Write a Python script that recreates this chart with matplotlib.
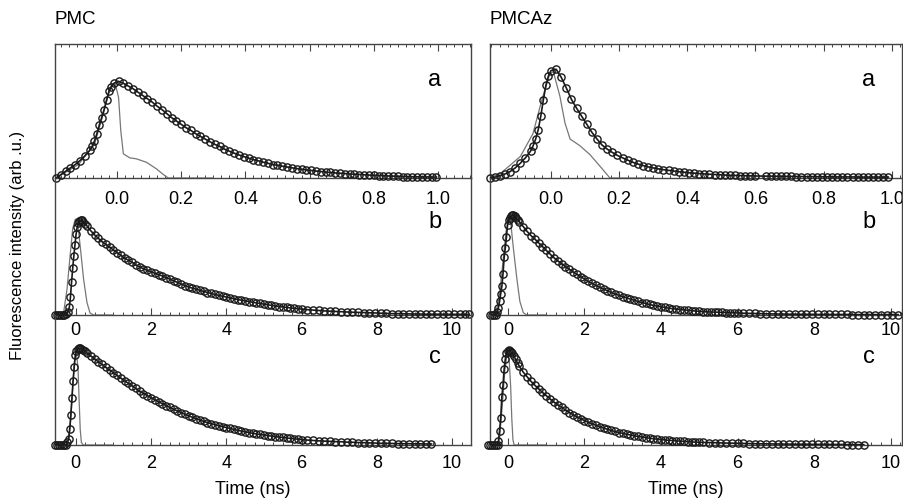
import matplotlib.pyplot as plt
from matplotlib.ticker import MultipleLocator

plt.rcParams['font.family'] = ['Liberation Sans', 'DejaVu Sans']

# ---- PMC (left column) ----
# a: short window, 0-1 ns
pmc_a_t = [-0.19, -0.175, -0.16, -0.145, -0.13, -0.115, -0.10, -0.085, -0.0775, -0.07,
           -0.0625, -0.055, -0.0475, -0.04, -0.0325, -0.025, -0.0175, -0.01, 0.005, 0.02,
           0.035, 0.05, 0.065, 0.08, 0.095, 0.11, 0.125, 0.14, 0.155, 0.17,
           0.185, 0.20, 0.215, 0.23, 0.245, 0.26, 0.275, 0.29, 0.305, 0.32,
           0.335, 0.35, 0.365, 0.38, 0.395, 0.41, 0.425, 0.44, 0.455, 0.47,
           0.485, 0.50, 0.515, 0.53, 0.545, 0.56, 0.575, 0.59, 0.605, 0.62,
           0.635, 0.65, 0.665, 0.68, 0.695, 0.71, 0.725, 0.74, 0.755, 0.77,
           0.785, 0.80, 0.815, 0.83, 0.845, 0.86, 0.875, 0.89, 0.905, 0.92,
           0.935, 0.95, 0.965, 0.98, 0.995]
pmc_a_i = [0.0, 0.025, 0.05, 0.075, 0.10, 0.13, 0.165, 0.205, 0.235, 0.275,
           0.33, 0.395, 0.45, 0.51, 0.58, 0.645, 0.68, 0.705, 0.72, 0.705,
           0.685, 0.665, 0.64, 0.615, 0.59, 0.565, 0.535, 0.51, 0.48, 0.45,
           0.425, 0.40, 0.375, 0.355, 0.33, 0.31, 0.29, 0.27, 0.25, 0.235,
           0.215, 0.20, 0.185, 0.172, 0.16, 0.148, 0.137, 0.128, 0.118, 0.11,
           0.10, 0.095, 0.088, 0.082, 0.076, 0.07, 0.065, 0.06, 0.056, 0.052,
           0.048, 0.044, 0.041, 0.038, 0.035, 0.033, 0.03, 0.028, 0.026, 0.024,
           0.022, 0.02, 0.018, 0.017, 0.015, 0.014, 0.013, 0.011, 0.01, 0.009,
           0.009, 0.008, 0.008, 0.007, 0.007]
pmc_a_irf_t = [-0.19, -0.12, -0.07, -0.04, -0.02, -0.005, 0.005, 0.012, 0.02, 0.04, 0.06,
               0.092, 0.123, 0.145, 0.16, 0.3]
pmc_a_irf_i = [0.0, 0.1, 0.25, 0.5, 0.68, 0.70, 0.6, 0.35, 0.18, 0.15, 0.143,
               0.117, 0.068, 0.025, 0.0, 0.0]

# b: 10 ns window
pmc_b_t = [-0.55, -0.5, -0.45, -0.4, -0.35, -0.3, -0.25, -0.2, -0.17, -0.14,
           -0.11, -0.08, -0.05, -0.02, 0.01, 0.04, 0.07, 0.10, 0.13, 0.16,
           0.2, 0.25, 0.3, 0.4, 0.5, 0.6, 0.7, 0.8, 0.9, 1.0,
           1.1, 1.2, 1.3, 1.4, 1.5, 1.6, 1.7, 1.8, 1.9, 2.0,
           2.1, 2.2, 2.3, 2.4, 2.5, 2.6, 2.7, 2.8, 2.9, 3.0,
           3.1, 3.2, 3.3, 3.4, 3.5, 3.6, 3.7, 3.8, 3.9, 4.0,
           4.1, 4.2, 4.3, 4.4, 4.5, 4.6, 4.7, 4.8, 4.9, 5.0,
           5.1, 5.2, 5.3, 5.4, 5.5, 5.6, 5.7, 5.8, 5.9, 6.0,
           6.15, 6.3, 6.45, 6.6, 6.75, 6.9, 7.05, 7.2, 7.35, 7.5,
           7.65, 7.8, 7.95, 8.1, 8.25, 8.4, 8.55, 8.7, 8.85, 9.0,
           9.15, 9.3, 9.45, 9.6, 9.75, 9.9, 10.05, 10.2, 10.35, 10.45]
pmc_b_i = [0.0, 0.0, 0.0, 0.0, 0.0, 0.0, 0.005, 0.025, 0.055, 0.13,
           0.24, 0.34, 0.43, 0.51, 0.59, 0.64, 0.675, 0.685, 0.69, 0.69,
           0.68, 0.665, 0.65, 0.615, 0.585, 0.56, 0.535, 0.515, 0.495, 0.475,
           0.455, 0.435, 0.415, 0.40, 0.385, 0.365, 0.35, 0.338, 0.326, 0.315,
           0.305, 0.295, 0.285, 0.273, 0.262, 0.25, 0.238, 0.226, 0.215, 0.204,
           0.196, 0.188, 0.18, 0.172, 0.164, 0.157, 0.15, 0.143, 0.137, 0.131,
           0.125, 0.119, 0.113, 0.108, 0.103, 0.098, 0.093, 0.088, 0.084, 0.079,
           0.075, 0.07, 0.066, 0.062, 0.059, 0.055, 0.052, 0.049, 0.046, 0.043,
           0.039, 0.036, 0.033, 0.03, 0.028, 0.026, 0.024, 0.022, 0.02, 0.019,
           0.018, 0.016, 0.015, 0.013, 0.012, 0.01, 0.01, 0.009, 0.008, 0.007,
           0.007, 0.006, 0.006, 0.006, 0.005, 0.005, 0.005, 0.005, 0.005, 0.005]
pmc_b_irf_t = [-0.55, -0.38, -0.32, -0.23, -0.15, -0.08, -0.01, 0.05, 0.12, 0.21, 0.30, 0.38, 0.47, 1.0]
pmc_b_irf_i = [0.0, 0.0, 0.02, 0.19, 0.43, 0.63, 0.70, 0.68, 0.50, 0.26, 0.09, 0.015, 0.0, 0.0]

# c: 10 ns window
pmc_c_t = [-0.55, -0.5, -0.45, -0.4, -0.35, -0.3, -0.25, -0.22, -0.19, -0.16,
           -0.13, -0.10, -0.07, -0.04, -0.01, 0.02, 0.05, 0.08, 0.11, 0.15,
           0.2, 0.25, 0.3, 0.4, 0.5, 0.6, 0.7, 0.8, 0.9, 1.0,
           1.1, 1.2, 1.3, 1.4, 1.5, 1.6, 1.7, 1.8, 1.9, 2.0,
           2.1, 2.2, 2.3, 2.4, 2.5, 2.6, 2.7, 2.8, 2.9, 3.0,
           3.1, 3.2, 3.3, 3.4, 3.5, 3.6, 3.7, 3.8, 3.9, 4.0,
           4.1, 4.2, 4.3, 4.4, 4.5, 4.6, 4.7, 4.8, 4.9, 5.0,
           5.1, 5.2, 5.3, 5.4, 5.5, 5.6, 5.7, 5.8, 5.9, 6.0,
           6.15, 6.3, 6.45, 6.6, 6.75, 6.9, 7.05, 7.2, 7.35, 7.5,
           7.65, 7.8, 7.95, 8.1, 8.25, 8.4, 8.55, 8.7, 8.85, 9.0,
           9.15, 9.3, 9.45]
pmc_c_i = [0.0, 0.0, 0.0, 0.0, 0.0, 0.0, 0.0, 0.02, 0.046, 0.12,
           0.23, 0.36, 0.49, 0.60, 0.69, 0.725, 0.74, 0.745, 0.745, 0.74,
           0.73, 0.72, 0.708, 0.685, 0.663, 0.64, 0.62, 0.597, 0.577, 0.556,
           0.535, 0.514, 0.494, 0.474, 0.455, 0.435, 0.412, 0.396, 0.38, 0.364,
           0.349, 0.333, 0.318, 0.303, 0.289, 0.275, 0.262, 0.249, 0.237, 0.225,
           0.213, 0.202, 0.192, 0.182, 0.172, 0.164, 0.156, 0.148, 0.141, 0.134,
           0.127, 0.12, 0.113, 0.107, 0.101, 0.096, 0.09, 0.085, 0.081, 0.077,
           0.072, 0.068, 0.064, 0.061, 0.058, 0.054, 0.051, 0.048, 0.045, 0.042,
           0.038, 0.035, 0.032, 0.03, 0.028, 0.026, 0.025, 0.022, 0.021, 0.019,
           0.018, 0.016, 0.015, 0.013, 0.013, 0.012, 0.011, 0.01, 0.01, 0.009,
           0.009, 0.008, 0.008]
pmc_c_irf_t = [-0.55, -0.25, -0.18, -0.13, -0.08, -0.03, 0.02, 0.06, 0.09, 0.12, 0.15, 0.2, 1.0]
pmc_c_irf_i = [0.0, 0.0, 0.05, 0.2, 0.45, 0.65, 0.70, 0.60, 0.35, 0.12, 0.02, 0.0, 0.0]

# ---- PMCAz (right column) ----
pmcaz_a_t = [-0.18, -0.165, -0.15, -0.135, -0.12, -0.105, -0.09, -0.075, -0.06, -0.0525,
             -0.045, -0.0375, -0.03, -0.0225, -0.015, -0.0075, 0.0, 0.015, 0.03, 0.045,
             0.06, 0.075, 0.09, 0.105, 0.12, 0.135, 0.15, 0.165, 0.18, 0.195,
             0.21, 0.225, 0.24, 0.255, 0.27, 0.285, 0.30, 0.315, 0.33, 0.345,
             0.36, 0.375, 0.39, 0.405, 0.42, 0.435, 0.45, 0.465, 0.48, 0.495,
             0.51, 0.525, 0.54, 0.555, 0.57, 0.585, 0.60, 0.63, 0.645, 0.66,
             0.675, 0.69, 0.705, 0.72, 0.735, 0.75, 0.765, 0.78, 0.795, 0.81,
             0.825, 0.84, 0.855, 0.87, 0.885, 0.90, 0.915, 0.93, 0.945, 0.96,
             0.975, 0.99]
pmcaz_a_i = [0.0, 0.006, 0.017, 0.03, 0.048, 0.075, 0.11, 0.15, 0.2, 0.24,
             0.29, 0.36, 0.46, 0.58, 0.69, 0.76, 0.80, 0.81, 0.75, 0.67,
             0.585, 0.52, 0.46, 0.40, 0.34, 0.29, 0.245, 0.215, 0.19, 0.168,
             0.15, 0.133, 0.117, 0.104, 0.093, 0.083, 0.075, 0.068, 0.062, 0.057,
             0.052, 0.047, 0.043, 0.039, 0.036, 0.033, 0.03, 0.028, 0.026, 0.024,
             0.022, 0.02, 0.019, 0.018, 0.017, 0.016, 0.015, 0.014, 0.014, 0.013,
             0.013, 0.012, 0.012, 0.011, 0.011, 0.01, 0.01, 0.01, 0.009, 0.009,
             0.009, 0.008, 0.008, 0.008, 0.008, 0.007, 0.007, 0.007, 0.007, 0.007,
             0.007, 0.007]
pmcaz_a_irf_t = [-0.184, -0.15, -0.09, -0.053, -0.027, -0.003, 0.007, 0.026, 0.041, 0.056, 0.085,
                 0.114, 0.144, 0.173, 0.3]
pmcaz_a_irf_i = [0.0, 0.03, 0.16, 0.33, 0.58, 0.78, 0.79, 0.61, 0.41, 0.29, 0.24,
                 0.175, 0.087, 0.0, 0.0]

pmcaz_b_t = [-0.47, -0.42, -0.37, -0.32, -0.28, -0.25, -0.22, -0.19, -0.16, -0.13,
             -0.10, -0.07, -0.04, -0.01, 0.02, 0.05, 0.08, 0.11, 0.14, 0.18,
             0.22, 0.27, 0.3, 0.4, 0.5, 0.6, 0.7, 0.8, 0.9, 1.0,
             1.1, 1.2, 1.3, 1.4, 1.5, 1.6, 1.7, 1.8, 1.9, 2.0,
             2.1, 2.2, 2.3, 2.4, 2.5, 2.6, 2.7, 2.8, 2.9, 3.0,
             3.1, 3.2, 3.3, 3.4, 3.5, 3.6, 3.7, 3.8, 3.9, 4.0,
             4.1, 4.2, 4.3, 4.4, 4.5, 4.6, 4.7, 4.8, 4.9, 5.0,
             5.1, 5.2, 5.3, 5.4, 5.5, 5.6, 5.7, 5.8, 5.9, 6.0,
             6.15, 6.3, 6.45, 6.6, 6.75, 6.9, 7.05, 7.2, 7.35, 7.5,
             7.65, 7.8, 7.95, 8.1, 8.25, 8.4, 8.55, 8.7, 8.85, 9.0,
             9.15, 9.3, 9.45, 9.6, 9.75, 9.9, 10.05, 10.2]
pmcaz_b_i = [0.0, 0.0, 0.0, 0.0, 0.02, 0.053, 0.1, 0.155, 0.21, 0.3,
             0.42, 0.49, 0.57, 0.66, 0.695, 0.71, 0.72, 0.728, 0.73, 0.72,
             0.705, 0.69, 0.68, 0.645, 0.61, 0.58, 0.555, 0.527, 0.5, 0.472,
             0.445, 0.418, 0.396, 0.375, 0.353, 0.334, 0.315, 0.297, 0.28, 0.262,
             0.245, 0.23, 0.216, 0.202, 0.189, 0.177, 0.165, 0.154, 0.144, 0.134,
             0.125, 0.116, 0.107, 0.099, 0.091, 0.084, 0.077, 0.07, 0.065, 0.06,
             0.055, 0.05, 0.046, 0.043, 0.04, 0.037, 0.034, 0.031, 0.029, 0.027,
             0.024, 0.023, 0.022, 0.021, 0.02, 0.019, 0.018, 0.017, 0.016, 0.015,
             0.013, 0.012, 0.011, 0.01, 0.009, 0.008, 0.007, 0.007, 0.006, 0.006,
             0.005, 0.005, 0.005, 0.004, 0.004, 0.004, 0.004, 0.004, 0.004, 0.003,
             0.003, 0.003, 0.003, 0.003, 0.003, 0.003, 0.003, 0.003]
pmcaz_b_irf_t = [-0.47, -0.32, -0.30, -0.21, -0.12, -0.05, 0.01, 0.07, 0.14, 0.23, 0.31, 0.40, 0.49, 1.0]
pmcaz_b_irf_i = [0.0, 0.0, 0.03, 0.175, 0.42, 0.61, 0.70, 0.68, 0.49, 0.27, 0.10, 0.017, 0.0, 0.0]

pmcaz_c_t = [-0.52, -0.47, -0.42, -0.37, -0.32, -0.27, -0.25, -0.22, -0.19, -0.16,
             -0.13, -0.10, -0.07, -0.04, -0.01, 0.02, 0.05, 0.08, 0.11, 0.15,
             0.2, 0.25, 0.3, 0.4, 0.5, 0.6, 0.7, 0.8, 0.9, 1.0,
             1.1, 1.2, 1.3, 1.4, 1.5, 1.6, 1.7, 1.8, 1.9, 2.0,
             2.1, 2.2, 2.3, 2.4, 2.5, 2.6, 2.7, 2.8, 2.9, 3.0,
             3.1, 3.2, 3.3, 3.4, 3.5, 3.6, 3.7, 3.8, 3.9, 4.0,
             4.1, 4.2, 4.3, 4.4, 4.5, 4.6, 4.7, 4.8, 4.9, 5.0,
             5.1, 5.25, 5.4, 5.55, 5.7, 5.85, 6.0, 6.15, 6.3, 6.45,
             6.6, 6.75, 6.9, 7.05, 7.2, 7.35, 7.5, 7.65, 7.8, 7.95,
             8.1, 8.25, 8.4, 8.55, 8.7, 8.85, 9.0, 9.15, 9.3]
pmcaz_c_i = [0.0, 0.0, 0.0, 0.0, 0.0, 0.0, 0.03, 0.11, 0.21, 0.37,
             0.46, 0.585, 0.66, 0.71, 0.725, 0.73, 0.725, 0.715, 0.705, 0.685,
             0.66, 0.63, 0.605, 0.56, 0.525, 0.49, 0.46, 0.433, 0.405, 0.38,
             0.355, 0.33, 0.31, 0.29, 0.27, 0.25, 0.233, 0.217, 0.202, 0.188,
             0.175, 0.163, 0.152, 0.141, 0.13, 0.121, 0.112, 0.104, 0.096, 0.089,
             0.083, 0.077, 0.071, 0.066, 0.062, 0.057, 0.052, 0.048, 0.045, 0.042,
             0.039, 0.036, 0.034, 0.032, 0.03, 0.028, 0.026, 0.024, 0.022, 0.021,
             0.02, 0.019, 0.018, 0.016, 0.015, 0.014, 0.013, 0.012, 0.011, 0.01,
             0.009, 0.009, 0.008, 0.008, 0.007, 0.007, 0.006, 0.006, 0.006, 0.005,
             0.005, 0.005, 0.004, 0.004, 0.004, 0.003, 0.003, 0.003, 0.003]
pmcaz_c_irf_t = [-0.52, -0.26, -0.22, -0.15, -0.08, -0.02, 0.03, 0.07, 0.10, 0.13, 0.16, 0.3, 1.0]
pmcaz_c_irf_i = [0.0, 0.0, 0.05, 0.3, 0.58, 0.70, 0.66, 0.45, 0.2, 0.04, 0.0, 0.0, 0.0]

columns = [
    ('PMC', [(pmc_a_t, pmc_a_i, pmc_a_irf_t, pmc_a_irf_i),
             (pmc_b_t, pmc_b_i, pmc_b_irf_t, pmc_b_irf_i),
             (pmc_c_t, pmc_c_i, pmc_c_irf_t, pmc_c_irf_i)],
     [(-0.193, 1.103), (-0.55, 10.5), (-0.55, 10.5)]),
    ('PMCAz', [(pmcaz_a_t, pmcaz_a_i, pmcaz_a_irf_t, pmcaz_a_irf_i),
               (pmcaz_b_t, pmcaz_b_i, pmcaz_b_irf_t, pmcaz_b_irf_i),
               (pmcaz_c_t, pmcaz_c_i, pmcaz_c_irf_t, pmcaz_c_irf_i)],
     [(-0.179, 1.03), (-0.47, 10.3), (-0.47, 10.3)]),
]
panel_letters = ['a', 'b', 'c']

W, H = 904, 502
fig = plt.figure(figsize=(W / 100, H / 100), dpi=100)

col_x = [(55, 471), (490, 902)]
row_y = [(44.7, 179), (179, 316), (316, 446)]
label_pad = [8.5, 4, 6.5]
spine_col = '#444444'

for ci, (name, panels, xlims) in enumerate(columns):
    x0, x1 = col_x[ci]
    for ri, (t, i, irf_t, irf_i) in enumerate(panels):
        top, bot = row_y[ri]
        ax = fig.add_axes([x0 / W, 1 - bot / H, (x1 - x0) / W, (bot - top) / H])
        ax.set_facecolor('none')
        ax.plot(irf_t, irf_i, color='#777777', lw=0.9, zorder=2)
        ax.plot(t, i, color='#1a1a1a', lw=1.2, zorder=3)
        ax.plot(t, i, 'o', ms=5.2, mfc='none', mec='#1a1a1a', mew=1.0, zorder=4, clip_on=False)
        ax.set_xlim(*xlims[ri])
        ax.set_ylim(0, 1)
        ax.set_yticks([])
        if ri == 0:
            ax.xaxis.set_major_locator(MultipleLocator(0.2))
            ax.xaxis.set_minor_locator(MultipleLocator(0.025))
            ax.xaxis.set_major_formatter(plt.FormatStrFormatter('%.1f'))
            ax.tick_params(axis='x', which='both', top=True, direction='in')
        else:
            ax.xaxis.set_major_locator(MultipleLocator(2))
            ax.xaxis.set_minor_locator(MultipleLocator(0.25))
            ax.spines['top'].set_visible(False)
            ax.tick_params(axis='x', which='both', top=False, direction='in')
        ax.tick_params(axis='x', which='major', length=5, width=0.8, color=spine_col,
                       labelsize=13, pad=label_pad[ri])
        ax.tick_params(axis='x', which='minor', length=2.5, width=0.7, color=spine_col)
        for s in ax.spines.values():
            s.set_color(spine_col)
            s.set_linewidth(1.0)
        lx = 435 if ci == 0 else 869
        ly = [80, 222, 357][ri]
        fig.text(lx / W, 1 - ly / H, panel_letters[ri], fontsize=17, ha='center', va='center')
    fig.text(x0 / W, 1 - 20 / H, name, fontsize=13.5, ha='left', va='center')

fig.text(253 / W, 1 - 490 / H, 'Time (ns)', fontsize=13, ha='center', va='center')
fig.text(686 / W, 1 - 490 / H, 'Time (ns)', fontsize=13, ha='center', va='center')
fig.text(18 / W, 1 - 245 / H, 'Fluorescence intensity (arb .u.)', fontsize=12,
         rotation=90, ha='center', va='center')

fig.savefig('out.png', dpi=100)
